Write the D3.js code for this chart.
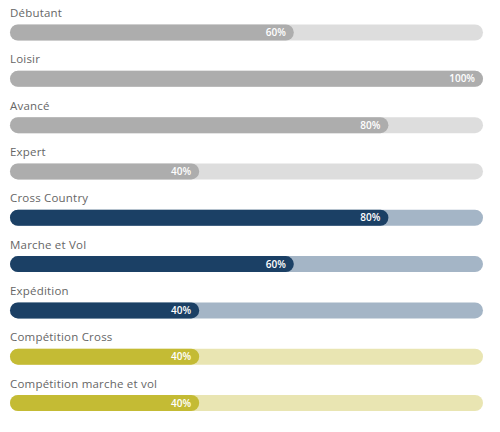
<!DOCTYPE html>
<html>
<head>
<meta charset="utf-8">
<script src="https://d3js.org/d3.v7.min.js"></script>
<style>
  body { margin: 0; background: #fff; }
</style>
</head>
<body>
<div id="chart"></div>
<script>
// Niveaux et pourcentages
var categories = ["Débutant", "Loisir", "Avancé", "Expert", "Cross Country",
  "Marche et Vol", "Expédition", "Compétition Cross", "Compétition marche et vol"];
var values = [60, 100, 80, 40, 80, 60, 40, 40, 40];
var groups = ["gris", "gris", "gris", "gris", "bleu", "bleu", "bleu", "olive", "olive"];

// couleurs par groupe : barre pleine / fond
var palette = {
  gris:  { fill: "#adadad", track: "#dddddd" },
  bleu:  { fill: "#1b4065", track: "#a4b5c6" },
  olive: { fill: "#c4bb34", track: "#e9e5b2" }
};

var svgWidth = 500;
var svgHeight = 432;
var barHeight = 16;

var svg = d3.select("#chart")
  .append("svg")
  .attr("width", svgWidth)
  .attr("height", svgHeight);

var x = d3.scaleLinear()
  .domain([0, 100])
  .range([10, 483]);

// top of each bar
var y = d3.scalePoint()
  .domain(categories)
  .range([24.5, 395]);

var rows = svg.selectAll("g.row")
  .data(categories)
  .enter()
  .append("g")
  .attr("class", "row")
  .attr("transform", d => `translate(0, ${y(d)})`);

// label above the bar
rows.append("text")
  .attr("x", x(0))
  .attr("y", -7.5)
  .attr("font-family", "'Open Sans', sans-serif")
  .attr("font-size", 11.5)
  .attr("fill", "#666")
  .attr("letter-spacing", 0.2)
  .text(d => d);

// background track
rows.append("rect")
  .attr("x", x(0))
  .attr("y", 0)
  .attr("width", x(100) - x(0))
  .attr("height", barHeight)
  .attr("rx", barHeight / 2)
  .attr("fill", (d, i) => palette[groups[i]].track);

// filled part
rows.append("rect")
  .attr("x", x(0))
  .attr("y", 0)
  .attr("width", (d, i) => x(values[i]) - x(0))
  .attr("height", barHeight)
  .attr("rx", barHeight / 2)
  .attr("fill", (d, i) => palette[groups[i]].fill);

// percentage inside the filled part
rows.append("text")
  .attr("x", (d, i) => x(values[i]) - 8)
  .attr("y", barHeight / 2)
  .attr("dy", "0.36em")
  .attr("text-anchor", "end")
  .attr("font-family", "'Open Sans', sans-serif")
  .attr("font-size", 10)
  .attr("font-weight", 600)
  .attr("fill", "#fff")
  .text((d, i) => values[i] + "%");
</script>
</body>
</html>
